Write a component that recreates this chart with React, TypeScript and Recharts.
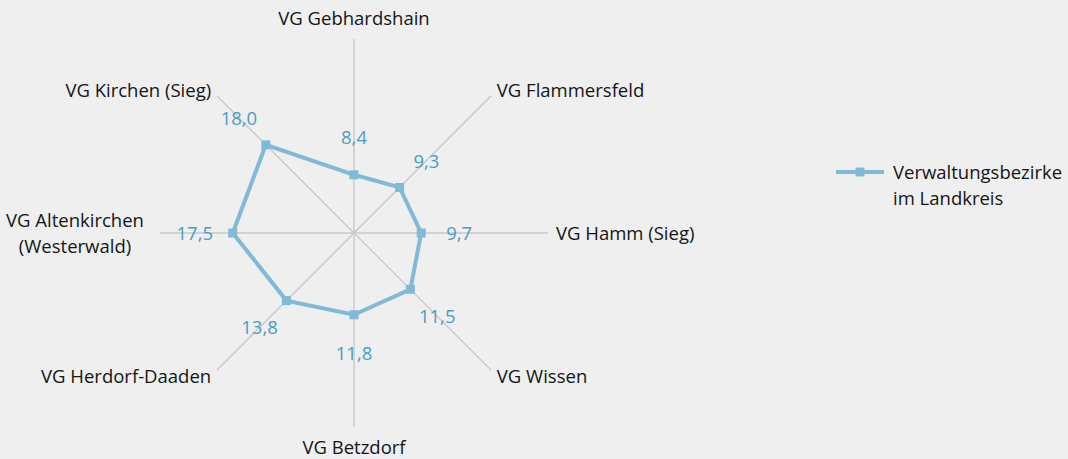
import { RadarChart, Radar, PolarGrid, PolarAngleAxis, PolarRadiusAxis, LabelList, Legend } from 'recharts'

const districts = [
  'VG Gebhardshain',
  'VG Flammersfeld',
  'VG Hamm (Sieg)',
  'VG Wissen',
  'VG Betzdorf',
  'VG Herdorf-Daaden',
  'VG Altenkirchen\n(Westerwald)',
  'VG Kirchen (Sieg)',
]
const values = [8.4, 9.3, 9.7, 11.5, 11.8, 13.8, 17.5, 18.0]
const seriesName = 'Verwaltungsbezirke\nim Landkreis'

const CX = 354
const CY = 233
const R = 194
const FONT = '"Open Sans", sans-serif'
const FS = 18.5
const LINE = '#80bad7'
const LABEL = '#4b9dc6'
const TEXT = '#151515'

const data = districts.map((name, i) => ({ name, value: values[i] }))

function AngleTick(props: any) {
  const { payload } = props
  const ang = (payload.coordinate * Math.PI) / 180
  const cos = Math.cos(ang)
  const sin = Math.sin(ang)
  const x = CX + (R + 8) * cos
  const y = CY - (R + 8) * sin
  const anchor = Math.abs(cos) < 0.1 ? 'middle' : cos > 0 ? 'start' : 'end'
  const lines = String(payload.value).split('\n')
  if (lines.length > 1) {
    // two-line label, centred block left of the spoke
    const mx = x - 77
    return (
      <text x={mx} y={y - 6} textAnchor="middle" fontFamily={FONT} fontSize={FS} fill={TEXT}>
        {lines.map((l, i) => (
          <tspan key={i} x={mx} dy={i === 0 ? 0 : 26}>{l}</tspan>
        ))}
      </text>
    )
  }
  let dy = 7
  if (sin > 0.9) dy = -6
  else if (sin < -0.9) dy = 19
  return (
    <text x={x} y={y + dy} textAnchor={anchor} fontFamily={FONT} fontSize={FS} fill={TEXT}>
      {lines[0]}
    </text>
  )
}

function ValueLabel(props: any) {
  const { x, y, value } = props
  const dx = x - CX
  const dy = y - CY
  const len = Math.sqrt(dx * dx + dy * dy) || 1
  const tx = x + (dx / len) * 38
  const ty = y + (dy / len) * 38
  return (
    <text x={tx} y={ty + 7} textAnchor="middle" fontFamily={FONT} fontSize={FS} fill={LABEL}>
      {Number(value).toFixed(1).replace('.', ',')}
    </text>
  )
}

function SquareDot(props: any) {
  const { cx, cy } = props
  return <rect x={cx - 4.5} y={cy - 4.5} width={9} height={9} fill={LINE} />
}

function LegendBox() {
  const lines = seriesName.split('\n')
  return (
    <svg width={240} height={60}>
      <line x1={2} y1={12} x2={50} y2={12} stroke={LINE} strokeWidth={4} />
      <rect x={21.5} y={7.5} width={9} height={9} fill={LINE} />
      <text x={59} y={19} fontFamily={FONT} fontSize={FS} fill={TEXT}>
        {lines.map((l, i) => (
          <tspan key={i} x={59} dy={i === 0 ? 0 : 26}>{l}</tspan>
        ))}
      </text>
    </svg>
  )
}

export default function App() {
  return (
    <div style={{ position: 'absolute', left: 0, top: 0, width: 1068, height: 459, background: '#eeefee' }}>
      <RadarChart width={1068} height={459} data={data} cx={CX} cy={CY} outerRadius={R} margin={{ top: 0, right: 0, bottom: 0, left: 0 }}>
        <PolarGrid polarRadius={[]} stroke="#c8c8c8" strokeWidth={1.3} />
        <PolarAngleAxis dataKey="name" tick={<AngleTick />} tickLine={false} axisLine={false} />
        <PolarRadiusAxis domain={[0, 28]} tick={false} axisLine={false} />
        <Radar
          name={seriesName}
          dataKey="value"
          stroke={LINE}
          strokeWidth={4}
          fill="none"
          fillOpacity={0}
          dot={<SquareDot />}
          isAnimationActive={false}
        >
          <LabelList dataKey="value" content={<ValueLabel />} />
        </Radar>
        <Legend
          content={<LegendBox />}
          wrapperStyle={{ position: 'absolute', left: 834, top: 160, width: 240 }}
        />
      </RadarChart>
    </div>
  )
}
